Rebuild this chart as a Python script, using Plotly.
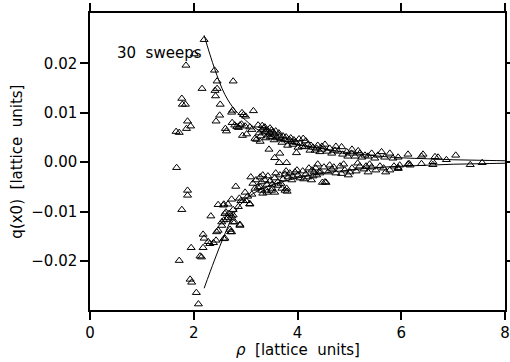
import plotly.graph_objects as go

# scatter points (rho, q)
rho_pts = [
    2.20, 1.85, 2.01, 2.40, 2.45, 2.76, 2.16, 2.41, 2.45, 2.42, 1.77, 1.78, 1.84, 2.51,
    2.73, 2.75, 2.93, 2.96, 3.00, 3.15, 2.50, 2.43, 1.88, 1.94, 1.86, 1.66, 1.72, 2.61,
    2.63, 2.74, 2.79, 2.83, 2.86, 2.89, 2.92, 2.99, 3.08, 3.12, 2.94, 3.02, 3.18, 3.21,
    3.28, 3.24, 3.32, 3.37, 3.47, 3.50, 3.45, 3.66, 3.56, 3.65, 3.79, 3.98,
    3.31, 3.37, 3.43, 3.47, 3.51, 3.56, 3.60, 3.66, 3.72, 3.76, 3.84, 3.89, 3.91, 3.97,
    4.05, 4.11, 4.14, 4.20, 4.24, 4.30, 4.37, 4.43, 4.39, 3.39, 3.55, 3.70, 3.81, 4.01,
    3.35, 3.58,
    4.53, 4.62, 4.72, 4.85, 4.95, 5.04, 5.17, 5.30, 5.43, 5.62, 5.78, 5.94, 6.13, 4.47,
    4.57, 4.66, 4.78, 4.87, 4.97, 5.11, 5.24, 5.36, 5.49, 5.68, 5.84, 4.74, 5.05, 5.20,
    5.55,
    6.39, 6.42, 6.65, 6.71, 6.87, 7.05, 6.15, 6.39, 6.61, 6.61, 7.33, 7.56, 6.17, 5.94,
    5.97, 6.13,
    3.26, 3.29, 3.41, 3.47, 3.53, 3.64, 3.68, 3.78, 3.87, 3.93, 4.03, 4.09, 4.16, 4.26,
    4.34, 4.47,
    # lower branch
    1.67, 1.88, 1.88, 1.77, 2.81, 3.10, 2.88, 2.91, 2.95, 3.01, 3.08, 2.66, 2.58, 2.62,
    2.68, 2.73, 2.33, 2.54, 2.58, 2.63, 2.66, 2.76, 2.89, 2.47, 2.44, 2.70, 2.71, 2.58,
    2.18, 2.20, 2.28, 2.31, 2.43, 2.38, 1.95, 2.12, 2.15, 1.72, 1.93, 1.96, 2.05, 2.09,
    2.18, 2.57, 2.60, 2.76, 2.79, 2.54, 2.73, 2.89, 2.60, 2.73, 2.86, 2.76, 2.47,
    3.14, 3.18, 3.24, 3.31, 3.33, 3.41, 3.51, 3.56, 3.62, 3.70, 3.76, 3.80, 3.28, 3.40,
    3.50, 3.79, 3.08, 3.04, 3.12, 2.99,
    3.28, 3.37, 3.43, 3.47, 3.56, 3.62, 3.66, 3.72, 3.76, 3.82, 3.85, 3.91, 3.95, 4.01,
    4.05, 4.10, 4.16, 4.20, 4.27, 4.32, 4.37, 4.43, 4.53, 4.48, 4.55, 3.51, 3.31,
    4.28, 4.35, 4.43, 4.51, 4.59, 4.66, 4.74, 4.82, 4.85, 4.91, 4.98, 5.05, 5.13, 5.20,
    5.28, 5.36, 5.43, 5.51, 5.59, 5.66, 5.78, 5.86, 5.94, 4.39, 4.62, 4.89, 5.16, 5.39,
    3.20, 3.33, 3.41, 3.58, 3.68, 3.78, 3.89, 3.99, 4.12, 4.22, 4.30, 4.70, 5.01, 5.32,
    5.70,
]
q_pts = [
    0.0248, 0.0196, 0.0219, 0.0186, 0.0164, 0.0164, 0.0149, 0.0145, 0.0149, 0.0134, 0.0129, 0.0117, 0.0117, 0.0117,
    0.0101, 0.0105, 0.0100, 0.0096, 0.0093, 0.0104, 0.0095, 0.0083, 0.0083, 0.0073, 0.0068, 0.0062, 0.0060, 0.0068,
    0.0063, 0.0080, 0.0075, 0.0072, 0.0070, 0.0075, 0.0077, 0.0073, 0.0071, 0.0066, 0.0054, 0.0057, 0.0048, 0.0046,
    0.0042, 0.0075, 0.0074, 0.0071, 0.0069, 0.0065, 0.0026, 0.0018, 0.0009, -0.0001, -0.0001, 0.0019,
    0.0065, 0.0061, 0.0055, 0.0059, 0.0051, 0.0057, 0.0049, 0.0053, 0.0053, 0.0045, 0.0046, 0.0041, 0.0036, 0.0040,
    0.0038, 0.0048, 0.0031, 0.0036, 0.0024, 0.0030, 0.0028, 0.0021, 0.0034, 0.0049, 0.0045, 0.0040, 0.0034, 0.0030,
    0.0069, 0.0063,
    0.0036, 0.0028, 0.0024, 0.0031, 0.0021, 0.0018, 0.0023, 0.0014, 0.0018, 0.0021, 0.0018, 0.0010, 0.0016, 0.0026,
    0.0022, 0.0018, 0.0022, 0.0016, 0.0012, 0.0012, 0.0010, 0.0012, 0.0008, 0.0010, 0.0008, 0.0032, 0.0026, 0.0018,
    0.0014,
    0.0012, 0.0016, 0.0011, 0.0010, 0.0005, 0.0014, -0.0003, -0.0003, -0.0005, 0.0001, -0.0005, -0.0001, -0.0006, -0.0013,
    -0.0006, -0.0004,
    0.0059, 0.0053, 0.0065, 0.0051, 0.0061, 0.0059, 0.0047, 0.0051, 0.0049, 0.0045, 0.0047, 0.0032, 0.0043, 0.0034,
    0.0024, 0.0032,
    -0.0011, -0.0057, -0.0067, -0.0096, -0.0049, -0.0030, -0.0073, -0.0078, -0.0078, -0.0078, -0.0085, -0.0085, -0.0085, -0.0101,
    -0.0104, -0.0109, -0.0109, -0.0121, -0.0117, -0.0116, -0.0112, -0.0121, -0.0126, -0.0138, -0.0141, -0.0136, -0.0141, -0.0155,
    -0.0146, -0.0154, -0.0161, -0.0165, -0.0158, -0.0163, -0.0173, -0.0190, -0.0192, -0.0199, -0.0237, -0.0243, -0.0264, -0.0287,
    -0.0173, -0.0087, -0.0104, -0.0107, -0.0121, -0.0128, -0.0141, -0.0128, -0.0154, -0.0075, -0.0090, -0.0096, -0.0086,
    -0.0043, -0.0053, -0.0051, -0.0057, -0.0063, -0.0061, -0.0053, -0.0061, -0.0047, -0.0053, -0.0057, -0.0059, -0.0050, -0.0057,
    -0.0057, -0.0053, -0.0084, -0.0069, -0.0065, -0.0061,
    -0.0030, -0.0036, -0.0028, -0.0038, -0.0032, -0.0040, -0.0026, -0.0034, -0.0024, -0.0030, -0.0022, -0.0028, -0.0020, -0.0026,
    -0.0032, -0.0018, -0.0024, -0.0030, -0.0036, -0.0020, -0.0026, -0.0022, -0.0040, -0.0041, -0.0041, -0.0045, -0.0040,
    -0.0016, -0.0012, -0.0018, -0.0010, -0.0020, -0.0014, -0.0022, -0.0008, -0.0023, -0.0016, -0.0026, -0.0012, -0.0018, -0.0008,
    -0.0014, -0.0020, -0.0010, -0.0016, -0.0008, -0.0012, -0.0016, -0.0008, -0.0011, -0.0004, -0.0006, -0.0004, -0.0002, -0.0004,
    -0.0036, -0.0026, -0.0045, -0.0022, -0.0043, -0.0018, -0.0036, -0.0016, -0.0034, -0.0012, -0.0028, -0.0010, -0.0020, -0.0008,
    -0.0020,
]

# fitted curves
curve_rho_upper = [2.2, 2.4, 2.6, 2.8, 3.0, 3.2, 3.5, 3.8, 4.0, 4.5, 5.0, 5.5, 6.0, 6.5, 7.0, 7.5, 8.0]
curve_q_upper = [0.0257, 0.0190, 0.0137, 0.0105, 0.0085, 0.0068, 0.0052, 0.0041, 0.0036, 0.0027,
                 0.0019, 0.0013, 0.0009, 0.0007, 0.0005, 0.0004, 0.0003]
curve_rho_lower = [2.2, 2.4, 2.6, 2.8, 3.0, 3.2, 3.5, 4.0, 4.5, 5.0, 5.5, 6.0, 6.5, 7.0, 7.5, 8.0]
curve_q_lower = [-0.0255, -0.0198, -0.0145, -0.0100, -0.0075, -0.0060, -0.0046, -0.0032, -0.0022,
                 -0.0016, -0.0011, -0.0008, -0.0006, -0.0004, -0.0003, -0.0002]

x_ticks = [0, 2, 4, 6, 8]
y_ticks = [-0.02, -0.01, 0.0, 0.01, 0.02]

FONT = "DejaVu Sans"
TXT = dict(family=FONT, size=15, color="#000000")

fig = go.Figure()
fig.add_trace(go.Scatter(
    x=rho_pts, y=q_pts, mode="markers",
    marker=dict(symbol="triangle-up-open", size=7, color="black", line=dict(width=1, color="black")),
    showlegend=False,
))
fig.add_trace(go.Scatter(
    x=curve_rho_upper, y=curve_q_upper, mode="lines",
    line=dict(color="black", width=1, shape="spline"), showlegend=False,
))
fig.add_trace(go.Scatter(
    x=curve_rho_lower, y=curve_q_lower, mode="lines",
    line=dict(color="black", width=1, shape="spline"), showlegend=False,
))

fig.add_annotation(
    x=0.48, y=0.0221, xref="x", yref="y", text="30  sweeps", showarrow=False,
    xanchor="left", yanchor="middle", font=TXT,
)
# axis titles
fig.add_annotation(
    x=0.5, y=-0.134, xref="paper", yref="paper", text="<i>ρ</i>  [lattice  units]",
    showarrow=False, xanchor="center", yanchor="middle", font=TXT,
)
fig.add_annotation(
    x=-0.178, y=0.5, xref="paper", yref="paper", text="q(x0)  [lattice  units]",
    showarrow=False, xanchor="center", yanchor="middle", textangle=-90, font=TXT,
)

axis_common = dict(
    showline=True, linecolor="black", linewidth=1.5, mirror="ticks",
    ticks="outside", ticklen=8, tickwidth=1.5, tickcolor="black",
    showgrid=False, zeroline=False, automargin=False,
    tickfont=TXT, ticklabeloverflow="allow",
)

fig.update_xaxes(range=[0, 8], tickvals=x_ticks, ticktext=[str(v) for v in x_ticks], **axis_common)
fig.update_yaxes(range=[-0.0299, 0.0302], tickvals=y_ticks, tickformat=".2f", **axis_common)

fig.update_layout(
    width=510, height=362,
    margin=dict(l=90, r=5, t=13, b=52),
    paper_bgcolor="white", plot_bgcolor="white",
)

fig.write_html(
    "out.html",
    config={"displayModeBar": False},
    post_script="document.body.style.margin='0';document.body.style.padding='0';document.body.style.overflow='hidden';",
)
